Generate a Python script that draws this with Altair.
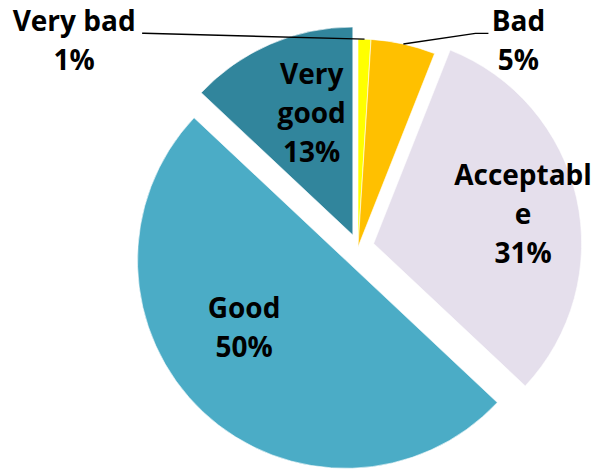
import math
import altair as alt
import pandas as pd

# ---- data ----
categories = ["Very bad", "Bad", "Acceptable", "Good", "Very good"]
values = [1, 5, 31, 50, 13]
label_text = ["Very bad\n1%", "Bad\n5%", "Acceptabl\ne\n31%", "Good\n50%", "Very\ngood\n13%"]
colors = ["#FFFF00", "#FFC000", "#E5DFEC", "#4BACC6", "#31859C"]

# ---- style (pixels / degrees) ----
CX, CY, R = 358, 247, 208
LH = 39  # label line height
explode = {"Acceptable": 16, "Good": 18, "Very good": 13}
# label placement: (angle offset from slice mid in degrees, radius from slice centre)
label_place = {
    "Very bad": (-56.0, 350),
    "Bad": (25.5, 260),
    "Acceptable": (2.0, 152),
    "Good": (12.5, 123),
    "Very good": (4.5, 127),
}
# leader lines for outside labels: elbow and end offsets from label block centre
leader = {
    "Very bad": [(70, -9), (68, -9)],
    "Bad": [(-43, -9), (-30, -9)],
}

total = sum(values)
rows, text_rows, line_rows = [], [], []
cum = 0.0
for i, (c, v) in enumerate(zip(categories, values)):
    mid = (cum + v / 2) / total * 2 * math.pi
    cum += v
    e = explode.get(c, 0)
    cx = CX + e * math.sin(mid)
    cy = CY - e * math.cos(mid)
    rows.append({"cat": c, "value": v, "idx": i, "cx": cx, "cy": cy})
    dth, lr = label_place[c]
    a = mid + math.radians(dth)
    lx = cx + lr * math.sin(a)
    ly = cy - lr * math.cos(a)
    nlines = label_text[i].count("\n") + 1
    text_rows.append({"cat": c, "label": label_text[i], "lx": lx,
                      "ly": ly - (nlines - 1) / 2 * LH})
    if c in leader:
        pts = [(cx + R * math.sin(mid), cy - R * math.cos(mid))]
        for dx, dy in leader[c]:
            pts.append((lx + dx, ly + dy))
        for k, (px, py) in enumerate(pts):
            line_rows.append({"cat": c, "k": k, "px": px, "py": py})

df = pd.DataFrame(rows)
tdf = pd.DataFrame(text_rows)
ldf = pd.DataFrame(line_rows)

arcs = alt.Chart(df).mark_arc(radius=R, stroke="white", strokeWidth=0.6).encode(
    theta=alt.Theta("value:Q", stack=True),
    order=alt.Order("idx:Q"),
    x=alt.X("cx:Q", scale=None, axis=None),
    y=alt.Y("cy:Q", scale=None, axis=None),
    color=alt.Color("cat:N", scale=alt.Scale(domain=categories, range=colors), legend=None),
)

lines = alt.Chart(ldf).mark_line(color="black", strokeWidth=1.4).encode(
    x=alt.X("px:Q", scale=None, axis=None),
    y=alt.Y("py:Q", scale=None, axis=None),
    detail="cat:N",
    order="k:Q",
)

texts = alt.Chart(tdf).mark_text(
    font="Open Sans", fontWeight="bold", fontSize=28, lineBreak="\n",
    lineHeight=LH, align="center", baseline="middle", color="black",
).encode(
    x=alt.X("lx:Q", scale=None, axis=None),
    y=alt.Y("ly:Q", scale=None, axis=None),
    text="label:N",
)

chart = alt.layer(arcs, lines, texts).properties(
    width=595, height=469, padding=0, autosize=alt.AutoSizeParams(type="none")
).configure_view(stroke=None)

chart.save("out.html", embed_options={"renderer": "svg", "actions": False})
